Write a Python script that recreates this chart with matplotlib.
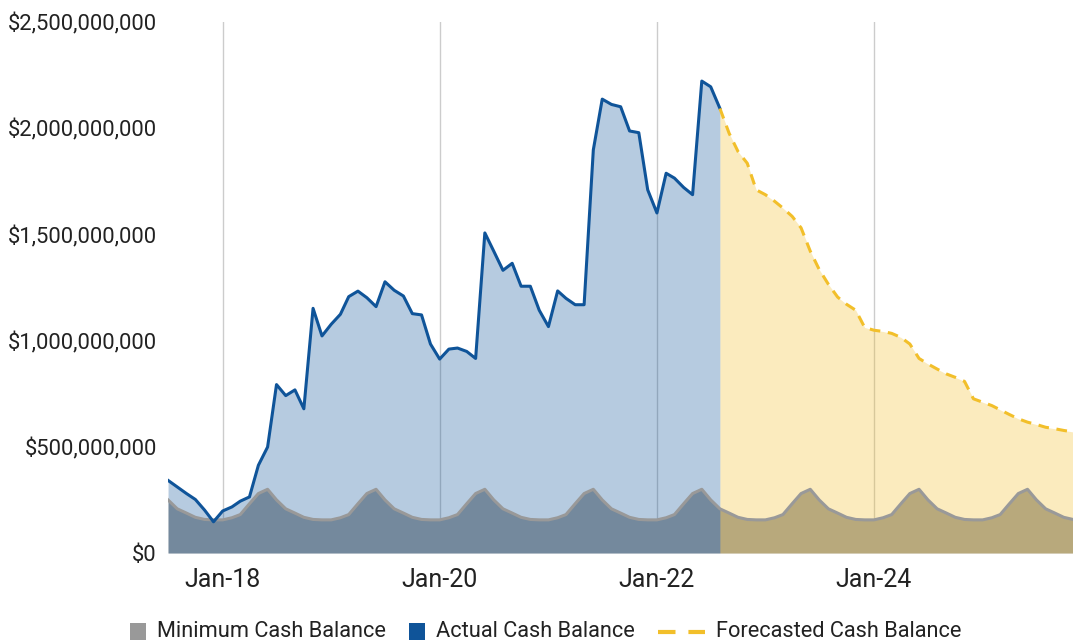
import pandas as pd
import matplotlib.pyplot as plt
import matplotlib.dates as mdates
from matplotlib.lines import Line2D
from matplotlib.patches import Rectangle
from matplotlib.offsetbox import DrawingArea, TextArea, HPacker, AnchoredOffsetbox
from matplotlib.ticker import FuncFormatter

plt.rcParams['font.family'] = ['Roboto', 'DejaVu Sans']
plt.rcParams['text.color'] = '#222222'
plt.rcParams['xtick.color'] = '#222222'
plt.rcParams['ytick.color'] = '#222222'

# monthly, Jul-17 .. Nov-25
months = pd.date_range('2017-07-01', '2025-11-01', freq='MS')

# balances in $ millions
minimum = [
    250, 208, 188, 168, 158, 156, 156, 166, 181, 232, 280, 300,  # Jul-17 - Jun-18
    250, 208, 188, 168, 158, 156, 156, 166, 181, 232, 280, 300,  # Jul-18 - Jun-19
    250, 208, 188, 168, 158, 156, 156, 166, 181, 232, 280, 300,  # Jul-19 - Jun-20
    250, 208, 188, 168, 158, 156, 156, 166, 181, 232, 280, 300,  # Jul-20 - Jun-21
    250, 208, 188, 168, 158, 156, 156, 166, 181, 232, 280, 300,  # Jul-21 - Jun-22
    250, 208, 188, 168, 158, 156, 156, 166, 181, 232, 280, 300,  # Jul-22 - Jun-23
    250, 208, 188, 168, 158, 156, 156, 166, 181, 232, 280, 300,  # Jul-23 - Jun-24
    250, 208, 188, 168, 158, 156, 156, 166, 181, 232, 280, 300,  # Jul-24 - Jun-25
    250, 208, 188, 168, 158,                                     # Jul-25 - Nov-25
]

# Jul-17 .. Aug-22
actual = [
    342, 311, 280, 252, 202, 147, 198, 217, 244, 264, 413, 499,
    793, 741, 768, 679, 1152, 1022, 1077, 1124, 1207, 1233, 1202, 1160,
    1277, 1237, 1210, 1127, 1121, 984, 913, 960, 965, 949, 916, 1507,
    1421, 1331, 1364, 1256, 1256, 1143, 1066, 1234, 1199, 1169, 1169, 1898,
    2137, 2112, 2101, 1987, 1979, 1710, 1601, 1788, 1765, 1721, 1687, 2222,
    2195, 2093,
]

# Aug-22 .. Nov-25
forecast = [
    2093, 1976, 1890, 1835, 1710, 1687, 1656, 1624, 1585, 1531,
    1421, 1335, 1265, 1205, 1171, 1143, 1062, 1049, 1043, 1034,
    1015, 984, 916, 890, 866, 843, 827, 808, 726, 710,
    694, 674, 652, 632, 616, 605, 592, 585, 577, 570,
]

labels = ['Minimum Cash Balance', 'Actual Cash Balance', 'Forecasted Cash Balance']

n_act = len(actual)
x_act = months[:n_act]
x_fc = months[n_act - 1:]
min_vals = [v * 1e6 for v in minimum]
act_vals = [v * 1e6 for v in actual]
fc_vals = [v * 1e6 for v in forecast]

BLUE = '#0f5499'
GOLD = '#f2bf2a'
GRAY_FILL = '#a0a0a0'
GRAY_LINE = '#999999'

fig = plt.figure(figsize=(10.73, 6.44), dpi=100)
ax = fig.add_axes([0.1566, 0.1413, 0.8434, 0.8245])

ax.fill_between(months, 0, min_vals, color=GRAY_FILL, lw=0, zorder=1)
ax.fill_between(x_act, 0, act_vals, color=BLUE, alpha=0.3, lw=0, zorder=2)
ax.fill_between(x_fc, 0, fc_vals, color=GOLD, alpha=0.3, lw=0, zorder=2)
ax.plot(months, min_vals, color=GRAY_LINE, lw=2.2, zorder=3)
ax.plot(x_act, act_vals, color=BLUE, lw=2.2, zorder=4)
ax.plot(x_fc, fc_vals, color=GOLD, lw=2.2, ls=(0, (3.5, 2.5)), zorder=4)

ax.set_xlim(months[0], months[-1])
ax.set_ylim(0, 2.5e9)
ax.set_yticks([0, 5e8, 1e9, 1.5e9, 2e9, 2.5e9])
ax.yaxis.set_major_formatter(FuncFormatter(lambda v, p: f"${v:,.0f}"))
ax.xaxis.set_major_locator(mdates.YearLocator(2, month=1))
ax.xaxis.set_major_formatter(mdates.DateFormatter('%b-%y'))

ax.grid(axis='x', color='#cccccc', lw=1)
ax.set_axisbelow(True)
for s in ax.spines.values():
    s.set_visible(False)
ax.tick_params(axis='both', length=0)
ax.tick_params(axis='y', pad=8, labelsize=15.8)
ax.tick_params(axis='x', pad=11, labelsize=18)

# legend: square swatches for the areas, short dashes for the forecast
def swatch(color):
    da = DrawingArea(11, 12, 0, 0)
    da.add_artist(Rectangle((0, 0), 11, 12, color=color, lw=0))
    return da

dash = DrawingArea(34, 12, 0, 0)
dash.add_artist(Line2D([0, 34], [6, 6], color=GOLD, lw=3, ls=(0, (4.2, 3.1))))

entries = []
for handle, text in zip([swatch(GRAY_LINE), swatch(BLUE), dash], labels):
    ta = TextArea(text, textprops=dict(fontsize=15.7, color='#222222'))
    entries.append(HPacker(children=[handle, ta], sep=8, align='center'))
row = HPacker(children=entries, sep=17, align='center')
box = AnchoredOffsetbox(loc='center', child=row, frameon=False, pad=0,
                        bbox_to_anchor=(0.509, 0.019), bbox_transform=fig.transFigure)
fig.add_artist(box)

fig.savefig('out.png', dpi=100)
